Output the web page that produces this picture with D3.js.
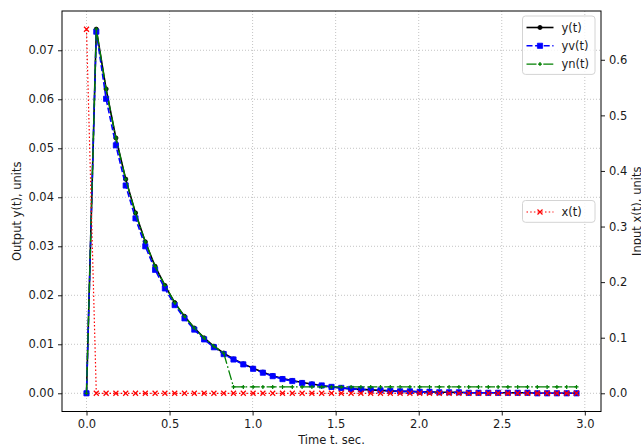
<!DOCTYPE html>
<html>
<head>
<meta charset="utf-8">
<script src="https://cdn.jsdelivr.net/npm/d3@7"></script>
<style>
body { margin: 0; background: #fff; }
text { font-family: "DejaVu Sans", sans-serif; }
</style>
</head>
<body>
<script>
// time samples, sec
const timeSec = [0, 0.059, 0.118, 0.177, 0.236, 0.295, 0.354, 0.413, 0.472, 0.531,
  0.59, 0.649, 0.708, 0.767, 0.826, 0.885, 0.944, 1.003, 1.062, 1.121,
  1.18, 1.239, 1.298, 1.357, 1.416, 1.475, 1.534, 1.593, 1.652, 1.711,
  1.77, 1.829, 1.888, 1.947, 2.006, 2.065, 2.124, 2.183, 2.242, 2.301,
  2.36, 2.419, 2.478, 2.537, 2.596, 2.655, 2.714, 2.773, 2.832, 2.891, 2.95];

// output y(t)
const yOut = [0, 0.0743, 0.0621, 0.0521, 0.0437, 0.0368, 0.0309, 0.0259, 0.0220, 0.0185,
  0.0157, 0.0133, 0.0113, 0.0096, 0.0082, 0.0070, 0.0060, 0.0051, 0.0043, 0.0036,
  0.0030, 0.0026, 0.0022, 0.0019, 0.0016, 0.0013, 0.0011, 0.0009, 0.0008, 0.0007,
  0.0006, 0.0005, 0.0004, 0.0004, 0.0003, 0.0003, 0.0002, 0.0002, 0.0002, 0.0001,
  0.0001, 0.0001, 0.0001, 0.0001, 0.0001, 0.0001, 0, 0, 0, 0, 0];

// yv(t)
const yvOut = [0, 0.0738, 0.0601, 0.0506, 0.0424, 0.0357, 0.0300, 0.0252, 0.0214, 0.0180,
  0.0153, 0.0130, 0.0110, 0.0094, 0.0080, 0.0069, 0.0059, 0.0050, 0.0042, 0.0035,
  0.0029, 0.0025, 0.0021, 0.0018, 0.0016, 0.0013, 0.0011, 0.0009, 0.0008, 0.0007,
  0.0006, 0.0005, 0.0004, 0.0004, 0.0003, 0.0003, 0.0002, 0.0002, 0.0002, 0.0001,
  0.0001, 0.0001, 0.0001, 0.0001, 0.0001, 0.0001, 0, 0, 0, 0, 0];

// yn(t)
const ynOut = [0, 0.0743, 0.0621, 0.0521, 0.0437, 0.0368, 0.0309, 0.0259, 0.0220, 0.0185,
  0.0157, 0.0133, 0.0113, 0.0096, 0.0082, 0.0013, 0.0013, 0.0013, 0.0013, 0.0013,
  0.0013, 0.0013, 0.0013, 0.0013, 0.0013, 0.0013, 0.0013, 0.0013, 0.0013, 0.0013,
  0.0013, 0.0013, 0.0013, 0.0013, 0.0013, 0.0013, 0.0013, 0.0013, 0.0013, 0.0013,
  0.0013, 0.0013, 0.0013, 0.0013, 0.0013, 0.0013, 0.0013, 0.0013, 0.0013, 0.0013, 0.0013];

// input x(t)
const xIn = [0.655, 0, 0, 0, 0, 0, 0, 0, 0, 0,
  0, 0, 0, 0, 0, 0, 0, 0, 0, 0,
  0, 0, 0, 0, 0, 0, 0, 0, 0, 0,
  0, 0, 0, 0, 0, 0, 0, 0, 0, 0,
  0, 0, 0, 0, 0, 0, 0, 0, 0, 0, 0];

const xTicks = [0, 0.5, 1.0, 1.5, 2.0, 2.5, 3.0];
const yLeftTicks = [0, 0.01, 0.02, 0.03, 0.04, 0.05, 0.06, 0.07];
const yRightTicks = [0, 0.1, 0.2, 0.3, 0.4, 0.5, 0.6];

function main() {
  const W = 641, H = 446;
  const left = 62, right = 601, top = 11, bottom = 411.5;
  const fs = "11.5px";

  const svg = d3.select("body").append("svg")
    .attr("width", W)
    .attr("height", H);

  // matplotlib style 5% margins
  function padded(lo, hi) {
    const m = (hi - lo) * 0.05;
    return [lo - m, hi + m];
  }
  const x = d3.scaleLinear().domain(padded(d3.min(timeSec), d3.max(timeSec))).range([left, right]);
  const yL = d3.scaleLinear().domain(padded(0, d3.max([d3.max(yOut), d3.max(yvOut), d3.max(ynOut)]))).range([bottom, top]);
  const yR = d3.scaleLinear().domain(padded(0, d3.max(xIn))).range([bottom, top]);

  // grid
  const grid = svg.append("g");
  grid.selectAll(".gx").data(xTicks).enter().append("line")
    .attr("x1", d => x(d)).attr("x2", d => x(d))
    .attr("y1", top).attr("y2", bottom)
    .attr("stroke", "#c4c4c4").attr("stroke-width", 1)
    .attr("stroke-dasharray", "1,2");
  grid.selectAll(".gy").data(yLeftTicks).enter().append("line")
    .attr("x1", left).attr("x2", right)
    .attr("y1", d => yL(d)).attr("y2", d => yL(d))
    .attr("stroke", "#c4c4c4").attr("stroke-width", 1)
    .attr("stroke-dasharray", "1,2");

  const lw = 1.6;
  const series = [
    {name: "y(t)", vals: yOut, scale: yL, color: "#000000", dash: null, sym: d3.symbolCircle, size: 14, stroke: false, width: lw},
    {name: "yv(t)", vals: yvOut, scale: yL, color: "#0000ff", dash: "6,2.6", sym: d3.symbolSquare, size: 27, stroke: false, width: lw},
    {name: "yn(t)", vals: ynOut, scale: yL, color: "#008000", dash: "10,2.6,1.6,2.6", sym: d3.symbolPlus, size: 6, stroke: true, width: 1.3},
    {name: "x(t)", vals: xIn, scale: yR, color: "#ff0000", dash: "1.5,2.2", sym: d3.symbolTimes, size: 18, stroke: true, width: 1.2}
  ];

  const plot = svg.append("g");
  series.forEach(s => {
    const line = d3.line()
      .x((d, i) => x(timeSec[i]))
      .y(d => s.scale(d));
    plot.append("path")
      .datum(s.vals)
      .attr("d", line)
      .attr("fill", "none")
      .attr("stroke", s.color)
      .attr("stroke-width", s.width)
      .attr("stroke-dasharray", s.dash);
    const sym = d3.symbol().type(s.sym).size(s.size);
    plot.selectAll(null)
      .data(s.vals)
      .enter().append("path")
      .attr("transform", (d, i) => "translate(" + x(timeSec[i]) + "," + s.scale(d) + ")")
      .attr("d", sym)
      .attr("fill", s.stroke ? "none" : s.color)
      .attr("stroke", s.color)
      .attr("stroke-width", s.stroke ? 1.2 : 0.8);
  });

  // axes
  const xAxis = svg.append("g")
    .attr("transform", "translate(0," + bottom + ")")
    .call(d3.axisBottom(x).tickValues(xTicks).tickFormat(d3.format(".1f")).tickSize(4).tickPadding(4));
  const yAxisL = svg.append("g")
    .attr("transform", "translate(" + left + ",0)")
    .call(d3.axisLeft(yL).tickValues(yLeftTicks).tickFormat(d3.format(".2f")).tickSize(4).tickPadding(4));
  const yAxisR = svg.append("g")
    .attr("transform", "translate(" + right + ",0)")
    .call(d3.axisRight(yR).tickValues(yRightTicks).tickFormat(d3.format(".1f")).tickSize(4).tickPadding(4));
  [xAxis, yAxisL, yAxisR].forEach(a => {
    a.select(".domain").remove();
    a.selectAll("text").attr("font-size", fs).attr("font-family", "DejaVu Sans").attr("fill", "#1a1a1a");
    a.selectAll("line").attr("stroke", "#000").attr("stroke-width", 0.9);
  });

  // frame
  svg.append("rect")
    .attr("x", left).attr("y", top)
    .attr("width", right - left).attr("height", bottom - top)
    .attr("fill", "none").attr("stroke", "#000").attr("stroke-width", 1);

  // labels
  svg.append("text")
    .attr("x", (left + right) / 2).attr("y", 444)
    .attr("text-anchor", "middle").attr("font-size", fs).attr("fill", "#1a1a1a")
    .text("Time t. sec.");
  svg.append("text")
    .attr("transform", "translate(21," + (top + bottom) / 2 + ") rotate(-90)")
    .attr("text-anchor", "middle").attr("font-size", fs).attr("fill", "#1a1a1a")
    .text("Output y(t), units");
  svg.append("text")
    .attr("transform", "translate(641," + (top + bottom) / 2 + ") rotate(-90)")
    .attr("text-anchor", "middle").attr("font-size", fs).attr("fill", "#1a1a1a")
    .text("Input x(t), units");

  // legends
  function legend(items, bx, by, bw) {
    const rowH = 18.3;
    const g = svg.append("g");
    g.append("rect")
      .attr("x", bx).attr("y", by)
      .attr("width", bw).attr("height", items.length * rowH + 3.5)
      .attr("rx", 3)
      .attr("fill", "#fff").attr("fill-opacity", 0.8)
      .attr("stroke", "#d4d4d4").attr("stroke-width", 1);
    items.forEach((s, k) => {
      const cy = by + 11.5 + k * rowH;
      g.append("line")
        .attr("x1", bx + 4).attr("x2", bx + 31)
        .attr("y1", cy).attr("y2", cy)
        .attr("stroke", s.color).attr("stroke-width", s.width)
        .attr("stroke-dasharray", s.dash);
      g.append("path")
        .attr("transform", "translate(" + (bx + 17.5) + "," + cy + ")")
        .attr("d", d3.symbol().type(s.sym).size(s.size))
        .attr("fill", s.stroke ? "none" : s.color)
        .attr("stroke", s.color)
        .attr("stroke-width", s.stroke ? 1.2 : 0.8);
      g.append("text")
        .attr("x", bx + 39).attr("y", cy)
        .attr("dy", "0.35em")
        .attr("font-size", fs).attr("fill", "#1a1a1a")
        .text(s.name);
    });
  }
  legend(series.slice(0, 3), 522.5, 16, 72.5);
  legend(series.slice(3), 522.5, 200.5, 72.5);
}
main();
</script>
</body>
</html>
